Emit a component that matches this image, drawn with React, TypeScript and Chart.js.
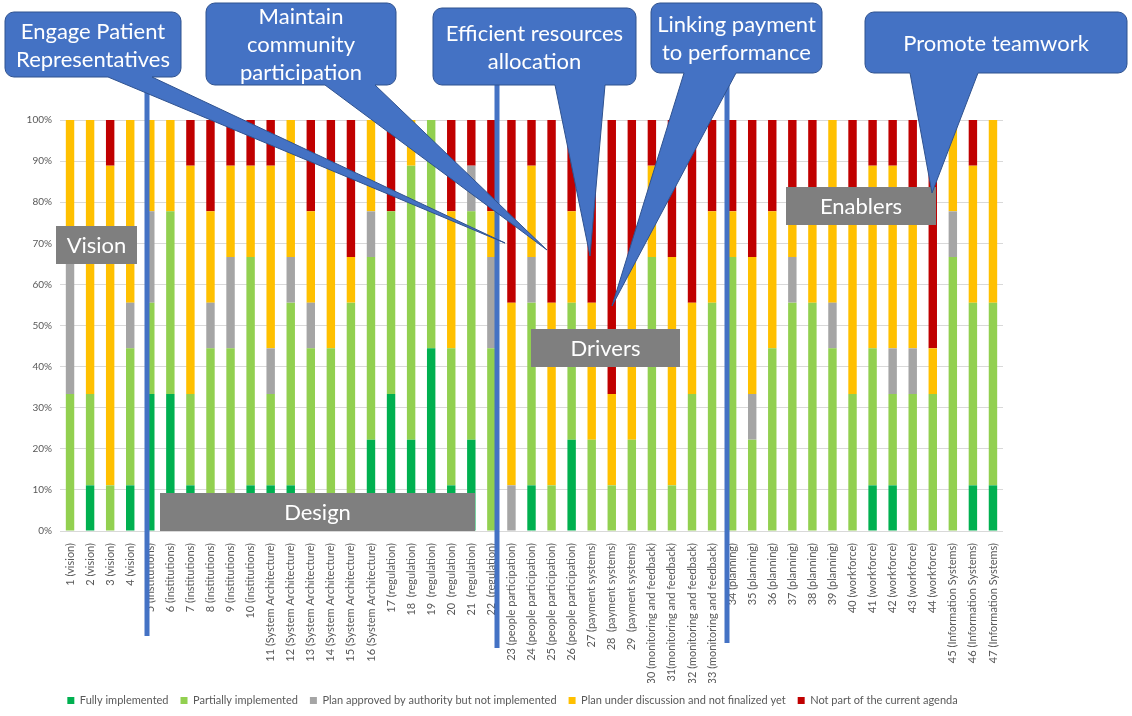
import React, { useEffect, useRef } from "react";
import { Chart, registerables } from "chart.js";

Chart.register(...registerables);

const W = 1132;
const H = 716;
const FONT = "Lato, 'Open Sans', sans-serif";

// Number of respondents (out of 9) per status, per element
const categories = [
  "1 (vision)", "2 (vision)", "3 (vision)", "4 (vision)",
  "5 (institutions)", "6 (institutions)", "7 (institutions)", "8 (institutions)", "9 (institutions)", "10 (institutions)",
  "11 (System Architecture)", "12 (System Architecture)", "13 (System Architecture)", "14 (System Architecture)",
  "15 (System Architecture)", "16 (System Architecture)",
  "17 (regulation)", "18  (regulation)", "19  (regulation)", "20  (regulation)", "21  (regulation)", "22  (regulation)",
  "23 (people participation)", "24 (people participation)", "25 (people participation)", "26 (people participation)",
  "27 (payment systems)", "28  (payment systems)", "29  (payment systems)",
  "30 (monitoring and feedback)", "31(monitoring and feedback)", "32 (monitoring and feedback)", "33 (monitoring and feedback)",
  "34 (planning)", "35 (planning)", "36 (planning)", "37 (planning)", "38 (planning)", "39 (planning)",
  "40 (workforce)", "41 (workforce)", "42 (workforce)", "43 (workforce)", "44 (workforce)",
  "45 (Information Systems)", "46 (Information Systems)", "47 (Information Systems)",
];

const RESPONDENTS = 9;

const fullyImplemented = [
  0, 1, 0, 1, 3, 3, 1, 0, 0, 1, 1, 1, 0, 0, 0, 2, 3, 2, 4, 1, 2, 0, 0, 1,
  0, 2, 0, 0, 0, 0, 0, 0, 0, 0, 0, 0, 0, 0, 0, 0, 1, 1, 0, 0, 0, 1, 1,
];
const partiallyImplemented = [
  3, 2, 1, 3, 2, 4, 2, 4, 4, 5, 2, 4, 4, 4, 5, 4, 4, 6, 5, 3, 5, 4, 0, 4,
  1, 3, 2, 1, 2, 6, 1, 3, 5, 6, 2, 4, 5, 5, 4, 3, 3, 2, 3, 3, 6, 4, 4,
];
const planApproved = [
  3, 0, 0, 1, 2, 0, 0, 1, 2, 0, 1, 1, 1, 0, 0, 1, 0, 0, 0, 0, 1, 2, 1, 1,
  0, 0, 0, 0, 0, 0, 0, 0, 0, 0, 1, 0, 1, 0, 1, 0, 0, 1, 1, 0, 1, 0, 0,
];
const planUnderDiscussion = [
  3, 6, 7, 4, 2, 2, 5, 2, 2, 2, 4, 3, 2, 4, 1, 2, 0, 1, 0, 3, 0, 1, 4, 2,
  4, 2, 3, 2, 4, 2, 5, 2, 2, 1, 3, 3, 1, 2, 4, 4, 4, 4, 3, 1, 2, 3, 4,
];
const notOnAgenda = [
  0, 0, 1, 0, 0, 0, 1, 2, 1, 1, 1, 0, 2, 1, 3, 0, 2, 0, 0, 2, 1, 2, 4, 1,
  4, 2, 4, 6, 3, 1, 3, 4, 2, 2, 3, 2, 2, 2, 0, 2, 1, 1, 2, 5, 0, 1, 0,
];

const seriesNames = [
  "Fully implemented",
  "Partially implemented",
  "Plan approved by authority but not implemented",
  "Plan under discussion and not finalized yet",
  "Not part of the current agenda",
];
const seriesColors = ["#00B050", "#92D050", "#A5A5A5", "#FFC000", "#C00000"];
const seriesCounts = [fullyImplemented, partiallyImplemented, planApproved, planUnderDiscussion, notOnAgenda];

const yTicks = [0, 10, 20, 30, 40, 50, 60, 70, 80, 90, 100];

// Annotation overlays (page decoration, not data)
const groupLabels = [
  { text: "Vision", x: 56, y: 226, w: 81, h: 38 },
  { text: "Design", x: 160, y: 493, w: 315, h: 38 },
  { text: "Drivers", x: 531, y: 329, w: 149, h: 38 },
  { text: "Enablers", x: 786, y: 187, w: 150, h: 38 },
];
const dividers = [
  { x: 147, top: 88, bottom: 636 },
  { x: 497, top: 85, bottom: 648 },
  { x: 727, top: 85, bottom: 643 },
];
const callouts = [
  { lines: ["Engage Patient", "Representatives"], x: 5, y: 12, w: 176, h: 65, b1: 108, b2: 152, tx: 505, ty: 243 },
  { lines: ["Maintain", "community", "participation"], x: 206, y: 3, w: 190, h: 82, b1: 325, b2: 375, tx: 547, ty: 250 },
  { lines: ["Efficient resources", "allocation"], x: 433, y: 8, w: 203, h: 77, b1: 555, b2: 605, tx: 590, ty: 256 },
  { lines: ["Linking payment", "to performance"], x: 651, y: 3, w: 171, h: 70, b1: 684, b2: 736, tx: 612, ty: 306 },
  { lines: ["Promote teamwork"], x: 865, y: 12, w: 262, h: 61, b1: 910, b2: 978, tx: 932, ty: 193 },
];

function calloutPath(ctx: CanvasRenderingContext2D, c: any) {
  const r = 9;
  const { x, y, w, h } = c;
  ctx.beginPath();
  ctx.moveTo(x + r, y);
  ctx.lineTo(x + w - r, y);
  ctx.arcTo(x + w, y, x + w, y + r, r);
  ctx.lineTo(x + w, y + h - r);
  ctx.arcTo(x + w, y + h, x + w - r, y + h, r);
  ctx.lineTo(c.b2, y + h);
  ctx.lineTo(c.tx, c.ty);
  ctx.lineTo(c.b1, y + h);
  ctx.lineTo(x + r, y + h);
  ctx.arcTo(x, y + h, x, y + h - r, r);
  ctx.lineTo(x, y + r);
  ctx.arcTo(x, y, x + r, y, r);
  ctx.closePath();
}

const overlayPlugin = {
  id: "overlay",
  afterDraw(chart: any) {
    const ctx: CanvasRenderingContext2D = chart.ctx;
    ctx.save();
    // divider lines
    ctx.strokeStyle = "#4472C4";
    ctx.lineWidth = 5;
    for (const d of dividers) {
      ctx.beginPath();
      ctx.moveTo(d.x, d.top);
      ctx.lineTo(d.x, d.bottom);
      ctx.stroke();
    }
    // group labels
    ctx.font = `22px ${FONT}`;
    ctx.textAlign = "center";
    ctx.textBaseline = "middle";
    for (const g of groupLabels) {
      ctx.fillStyle = "#7F7F7F";
      ctx.fillRect(g.x, g.y, g.w, g.h);
      ctx.fillStyle = "#FFFFFF";
      ctx.fillText(g.text, g.x + g.w / 2, g.y + g.h / 2 + 1);
    }
    // callouts
    for (const c of callouts) {
      calloutPath(ctx, c);
      ctx.fillStyle = "#4472C4";
      ctx.fill();
      ctx.strokeStyle = "#2F528F";
      ctx.lineWidth = 1;
      ctx.stroke();
      ctx.fillStyle = "#FFFFFF";
      const lh = 28;
      const cy = c.y + c.h / 2;
      c.lines.forEach((t: string, i: number) => {
        ctx.fillText(t, c.x + c.w / 2, cy + (i - (c.lines.length - 1) / 2) * lh + 1);
      });
    }
    ctx.restore();
  },
};

export default function App() {
  const ref = useRef<HTMLCanvasElement>(null);
  useEffect(() => {
    if (!ref.current) return;
    const datasets = seriesNames.map((name, i) => ({
      label: name,
      data: seriesCounts[i].map((n) => (n / RESPONDENTS) * 100),
      backgroundColor: seriesColors[i],
      borderWidth: 0,
      barPercentage: 0.42,
      categoryPercentage: 1,
    }));
    const chart = new Chart(ref.current, {
      type: "bar",
      data: { labels: categories, datasets },
      options: {
        animation: false,
        responsive: true,
        maintainAspectRatio: false,
        layout: { padding: { top: 120, right: 129, left: 22, bottom: 0 } },
        plugins: {
          tooltip: { enabled: false },
          legend: {
            position: "bottom",
            labels: {
              boxWidth: 7,
              boxHeight: 7,
              padding: 12,
              color: "#595959",
              font: { size: 11, family: FONT },
            },
          },
        },
        scales: {
          x: {
            stacked: true,
            grid: { display: false },
            border: { display: false },
            ticks: {
              autoSkip: false,
              minRotation: 90,
              maxRotation: 90,
              padding: 4,
              color: "#595959",
              font: { size: 11, family: FONT },
            },
            afterFit: (s: any) => {
              s.height = 152;
            },
          },
          y: {
            stacked: true,
            min: 0,
            max: 100,
            afterBuildTicks: (s: any) => {
              s.ticks = yTicks.map((v) => ({ value: v }));
            },
            ticks: {
              padding: 8,
              color: "#595959",
              font: { size: 10, family: FONT },
              callback: (v: any) => `${v}%`,
            },
            grid: { color: "#D9D9D9", drawTicks: false },
            border: { display: false },
            afterFit: (s: any) => {
              s.width = 38;
            },
          },
        },
      },
      plugins: [overlayPlugin],
    });
    return () => chart.destroy();
  }, []);
  return (
    <div style={{ position: "fixed", left: 0, top: 0, width: W, height: H, background: "#fff" }}>
      <canvas ref={ref} />
    </div>
  );
}
